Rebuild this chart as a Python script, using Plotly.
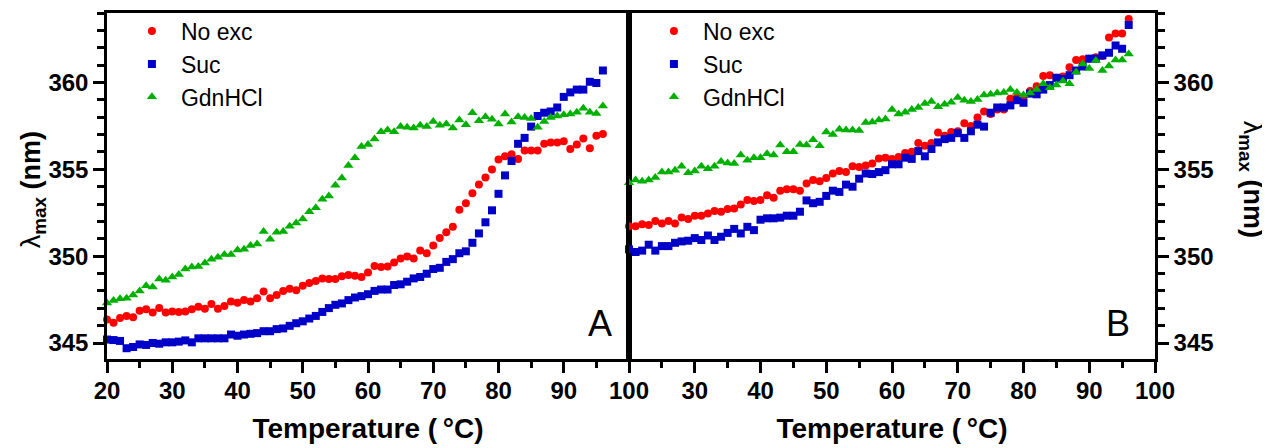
import plotly.graph_objects as go

# ---------------- data ----------------
temps = [20, 21, 22, 23, 24, 25, 26, 27, 28, 29, 30, 31, 32, 33, 34, 35, 36, 37, 38, 39,
         40, 41, 42, 43, 44, 45, 46, 47, 48, 49, 50, 51, 52, 53, 54, 55, 56, 57, 58, 59,
         60, 61, 62, 63, 64, 65, 66, 67, 68, 69, 70, 71, 72, 73, 74, 75, 76, 77, 78, 79,
         80, 81, 82, 83, 84, 85, 86, 87, 88, 89, 90, 91, 92, 93, 94, 95, 96]

a_noexc = [346.35, 346.16, 346.44, 346.56, 346.48, 346.86, 346.94, 346.75, 347.01, 346.75,
           346.82, 346.79, 346.82, 346.94, 347.09, 346.98, 347.24, 346.98, 347.13, 347.39,
           347.32, 347.47, 347.39, 347.58, 347.96, 347.58, 347.77, 348.00, 348.12, 348.04,
           348.30, 348.46, 348.57, 348.72, 348.68, 348.68, 348.84, 348.91, 348.87, 348.80,
           349.06, 349.44, 349.37, 349.41, 349.63, 349.86, 349.98, 349.86, 350.32, 350.17,
           350.62, 351.04, 351.38, 351.69, 352.67, 353.05, 353.62, 354.12, 354.53, 354.99,
           355.56, 355.75, 355.87, 355.60, 356.09, 356.09, 356.09, 356.47, 356.55, 356.55,
           356.62, 356.17, 356.43, 356.78, 356.21, 356.93, 357.04]

a_suc = [345.20, 345.17, 345.12, 344.70, 344.77, 344.92, 344.89, 345.00, 344.96, 345.04,
         345.04, 345.08, 345.15, 345.04, 345.27, 345.27, 345.27, 345.27, 345.27, 345.49,
         345.42, 345.49, 345.53, 345.57, 345.68, 345.68, 345.80, 345.84, 345.99, 346.14,
         346.25, 346.41, 346.56, 346.79, 347.01, 347.20, 347.28, 347.47, 347.62, 347.70,
         347.81, 348.00, 348.08, 348.08, 348.34, 348.38, 348.53, 348.72, 348.80, 348.99,
         349.26, 349.33, 349.67, 349.83, 350.17, 350.28, 350.77, 351.31, 351.95, 352.64,
         353.59, 354.65, 355.48, 356.47, 356.81, 357.46, 358.07, 358.26, 358.33, 358.56,
         359.17, 359.43, 359.59, 359.59, 360.04, 359.97, 360.69]

a_gdn = [347.30, 347.45, 347.55, 347.58, 347.77, 348.00, 348.30, 348.23, 348.68, 348.61,
         348.80, 348.95, 349.26, 349.37, 349.41, 349.60, 349.83, 349.94, 350.09, 350.09,
         350.36, 350.40, 350.62, 350.70, 351.42, 350.97, 351.38, 351.42, 351.72, 351.91,
         352.14, 352.56, 352.79, 353.28, 353.47, 354.08, 354.50, 355.22, 355.66, 356.32,
         356.43, 356.74, 357.16, 357.27, 357.16, 357.46, 357.42, 357.38, 357.54, 357.46,
         357.76, 357.54, 357.61, 357.38, 357.84, 357.57, 358.26, 357.80, 358.03, 357.88,
         357.61, 358.18, 357.73, 358.03, 357.99, 357.92, 357.42, 357.76, 357.99, 358.07,
         358.14, 358.18, 358.29, 358.52, 358.29, 358.22, 358.64]

b_noexc = [351.72, 351.72, 351.84, 351.80, 352.03, 351.88, 352.03, 351.88, 352.22, 352.14,
           352.33, 352.33, 352.45, 352.60, 352.56, 352.71, 352.75, 352.98, 353.24, 353.17,
           353.24, 353.51, 353.36, 353.77, 353.85, 353.85, 353.77, 354.19, 354.38, 354.31,
           354.50, 354.76, 354.91, 354.84, 355.18, 355.14, 355.22, 355.33, 355.62, 355.66,
           355.60, 355.71, 355.94, 356.01, 356.51, 356.36, 356.51, 357.12, 356.93, 357.15,
           357.19, 357.65, 357.50, 357.99, 358.33, 358.18, 358.45, 358.45, 359.06, 359.13,
           359.17, 359.51, 359.78, 360.38, 360.42, 360.27, 360.35, 360.88, 361.30, 361.34,
           361.37, 361.45, 361.52, 362.59, 362.82, 362.82, 363.65]

b_suc = [350.39, 350.24, 350.32, 350.66, 350.32, 350.58, 350.58, 350.77, 350.85, 350.89,
         351.04, 350.93, 351.19, 350.93, 351.12, 351.34, 351.57, 351.31, 351.69, 351.50,
         352.10, 352.18, 352.18, 352.22, 352.33, 352.33, 352.56, 353.21, 353.05, 353.13,
         353.47, 353.77, 353.70, 354.12, 354.00, 354.46, 354.76, 354.73, 354.84, 354.95,
         355.29, 355.29, 355.67, 355.60, 356.05, 355.75, 356.17, 356.55, 356.74, 356.81,
         357.08, 356.81, 357.19, 357.57, 357.46, 358.26, 358.56, 358.56, 358.68, 358.98,
         358.83, 359.36, 359.32, 359.59, 359.85, 360.27, 360.20, 360.42, 360.69, 360.92,
         361.37, 361.37, 361.56, 361.71, 362.13, 361.94, 363.31]

b_gdn = [354.23, 354.38, 354.31, 354.38, 354.53, 354.84, 354.84, 354.95, 355.18, 354.80,
         354.91, 355.18, 355.03, 355.18, 355.45, 355.37, 355.33, 355.83, 355.52, 355.67,
         355.67, 355.90, 355.83, 356.40, 356.01, 356.01, 356.43, 356.40, 356.70, 356.36,
         357.15, 357.00, 357.31, 357.27, 357.27, 357.23, 357.69, 357.72, 357.84, 357.90,
         358.45, 358.18, 358.29, 358.45, 358.56, 358.79, 358.90, 358.60, 358.75, 358.86,
         359.13, 358.98, 358.90, 359.02, 359.28, 359.32, 359.40, 359.43, 359.59, 359.43,
         359.28, 359.40, 359.59, 359.93, 359.70, 359.85, 360.08, 359.93, 360.61, 361.07,
         360.80, 361.26, 360.69, 360.95, 361.30, 361.30, 361.64]

series_names = ["No exc", "Suc", "GdnHCl"]
x_major = [20, 30, 40, 50, 60, 70, 80, 90, 100]
x_labels_left = ["20", "30", "40", "50", "60", "70", "80", "90", "100"]
x_labels_right = ["", "30", "40", "50", "60", "70", "80", "90", "100"]
y_major = [345, 350, 355, 360]
y_labels = ["345", "350", "355", "360"]
panel_letters = ["A", "B"]

# ---------------- style ----------------
colors = ["#ff0000", "#0000c8", "#00b000"]
symbols = ["circle", "square", "triangle-up"]
sizes = [8, 8, 9]
FONT = "Liberation Sans, Arial, sans-serif"

fig = go.Figure()

for ys, xa, ya, lg in [((a_noexc, a_suc, a_gdn), "x", "y", "legend"),
                       ((b_noexc, b_suc, b_gdn), "x2", "y2", "legend2")]:
    for i, yv in enumerate(ys):
        fig.add_trace(go.Scatter(
            x=temps, y=yv, mode="markers", name=series_names[i],
            marker=dict(symbol=symbols[i], size=sizes[i], color=colors[i],
                        line=dict(width=0)),
            xaxis=xa, yaxis=ya, legend=lg, cliponaxis=False))

split = 522 / 1048
y_range = [344.08, 364.0]

tickfont = dict(family=FONT, size=24, color="black", weight="bold")
titlefont = dict(family=FONT, size=28, color="black", weight="bold")

common_x = dict(range=[20, 100], showline=True, linecolor="black", linewidth=2.5,
                mirror=True, ticks="outside", ticklen=11, tickwidth=2.5, tickcolor="black",
                tickmode="array", tickvals=x_major, tickfont=tickfont, ticklabelstandoff=-3,
                minor=dict(tickmode="array", tickvals=[25, 35, 45, 55, 65, 75, 85, 95],
                           ticks="outside", ticklen=6, tickwidth=2.5, tickcolor="black"),
                showgrid=False, zeroline=False,
                title=dict(text="Temperature (\u2009\u00b0C)", font=titlefont, standoff=16))

common_y = dict(range=y_range, showline=True, linecolor="black", linewidth=2.5,
                mirror=True, ticks="outside", ticklen=11, tickwidth=2.5, tickcolor="black",
                tickmode="array", tickvals=y_major, ticktext=y_labels, tickfont=tickfont,
                minor=dict(tickmode="array", tickvals=list(range(344, 365)),
                           ticks="outside", ticklen=7, tickwidth=2.5, tickcolor="black"),
                showgrid=False, zeroline=False)

legfont = dict(family=FONT, size=23, color="black")

fig.update_layout(
    width=1270, height=448,
    # the page body adds an 8px offset; margins compensate for it
    margin=dict(l=99, r=123, t=2, b=97),
    plot_bgcolor="white", paper_bgcolor="white",
    xaxis=dict(domain=[0, split], anchor="y", ticktext=x_labels_left, **common_x),
    xaxis2=dict(domain=[split, 1], anchor="x2" and "y2", ticktext=x_labels_right, **common_x),
    yaxis=dict(domain=[0, 1], anchor="x", side="left", **common_y),
    yaxis2=dict(domain=[0, 1], anchor="x2", side="right", **common_y),
    legend=dict(x=0.0152, y=1.01, xanchor="left", yanchor="top",
                bgcolor="rgba(0,0,0,0)", font=legfont, itemwidth=48, tracegroupgap=0),
    legend2=dict(x=split + 0.0152, y=1.01, xanchor="left", yanchor="top",
                 bgcolor="rgba(0,0,0,0)", font=legfont, itemwidth=48, tracegroupgap=0),
    showlegend=True,
)

ytitle = "\u03bb<sub><b>max</b></sub><b> (nm)</b>"
fig.add_annotation(text=ytitle, xref="paper", yref="paper", x=-0.088, y=0.49,
                   textangle=-90, showarrow=False, font=dict(family=FONT, size=27, color="black"))
fig.add_annotation(text=ytitle, xref="paper", yref="paper", x=1.110, y=0.52,
                   textangle=90, showarrow=False, font=dict(family=FONT, size=27, color="black"))

fig.add_annotation(text=panel_letters[0], xref="x", yref="y", x=95.5, y=346.1,
                   showarrow=False, font=dict(family=FONT, size=36, color="black"))
fig.add_annotation(text=panel_letters[1], xref="x2", yref="y2", x=94.4, y=346.1,
                   showarrow=False, font=dict(family=FONT, size=36, color="black"))

fig.write_html("out.html")
